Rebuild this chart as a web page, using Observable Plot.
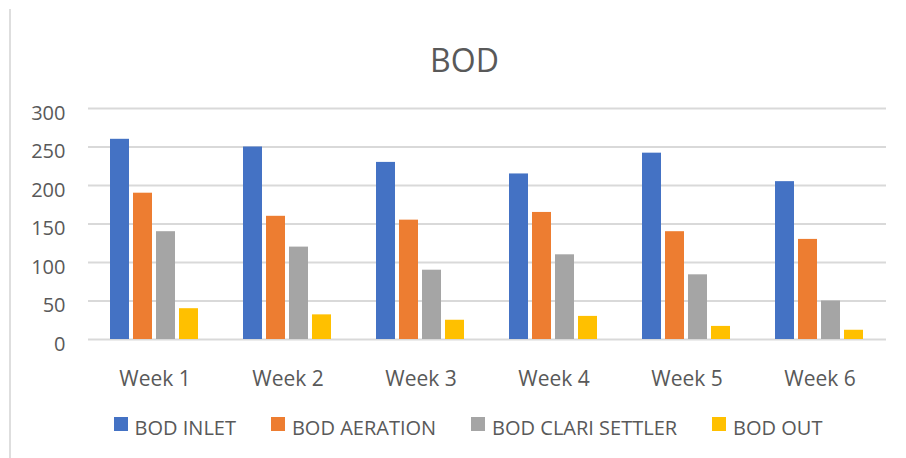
<!DOCTYPE html>
<html>
<head>
<meta charset="utf-8">
<script src="https://cdn.jsdelivr.net/npm/d3@7"></script>
<script src="https://cdn.jsdelivr.net/npm/@observablehq/plot@0.6"></script>
<style>
  html, body { margin: 0; padding: 0; background: #fff; }
  body { width: 906px; height: 458px; position: relative; overflow: hidden; font-family: "Open Sans", sans-serif; color: #595959; }
  #border { position: absolute; left: 9px; top: 9px; bottom: 0; width: 2px; background: #dedede; }
  #title { position: absolute; left: 0; top: 44px; width: 929px; text-align: center; font-size: 32px; line-height: 1; }
  #chart { position: absolute; left: 0; top: 0; }
  #legend { position: absolute; left: 15px; top: 418px; width: 906px; display: flex; justify-content: center; gap: 35px; font-size: 20px; line-height: 1; }
  .item { display: flex; align-items: center; gap: 7px; white-space: nowrap; }
  .sw { width: 14px; height: 14px; position: relative; top: -4px; }
</style>
</head>
<body>
<div id="border"></div>
<div id="title">BOD</div>
<div id="chart"></div>
<div id="legend"></div>
<script>
const weeks = ["Week 1", "Week 2", "Week 3", "Week 4", "Week 5", "Week 6"];
const series = ["BOD INLET", "BOD AERATION", "BOD CLARI SETTLER", "BOD OUT"];
const inlet = [260, 250, 230, 215, 242, 205];
const aeration = [190, 160, 155, 165, 140, 130];
const clari = [140, 120, 90, 110, 84, 50];
const out = [40, 32, 25, 30, 17, 12];
const colors = ["#4472c4", "#ed7d31", "#a5a5a5", "#ffc000"];
const yTicks = [0, 50, 100, 150, 200, 250, 300];

const valuesBySeries = [inlet, aeration, clari, out];
const data = [];
weeks.forEach((w, i) => {
  series.forEach((s, j) => {
    data.push({week: w, series: s, value: valuesBySeries[j][i]});
  });
});

const chart = Plot.plot({
  width: 906,
  height: 400,
  marginTop: 108,
  marginBottom: 61,
  marginLeft: 86,
  marginRight: 18,
  style: {fontFamily: "Open Sans, sans-serif", color: "#595959", background: "transparent"},
  fx: {domain: weeks, padding: 0, label: null},
  x: {domain: series, paddingInner: 0.167, paddingOuter: 0.868, axis: null},
  y: {domain: [0, 300], axis: null},
  color: {domain: series, range: colors},
  marks: [
    Plot.gridY(yTicks, {stroke: "#d9d9d9", strokeOpacity: 1, strokeWidth: 2}),
    Plot.barY(data, {fx: "week", x: "series", y: "value", fill: "series"}),
    Plot.axisY(yTicks, {tickSize: 0, tickPadding: 23, fontSize: 20, fill: "#595959", dy: 5, label: null}),
    Plot.axisFx({anchor: "bottom", tickSize: 0, tickPadding: 32, fontSize: 21, fill: "#595959", label: null})
  ]
});
document.getElementById("chart").appendChild(chart);

const legend = document.getElementById("legend");
series.forEach((s, i) => {
  const item = document.createElement("div");
  item.className = "item";
  const sw = document.createElement("div");
  sw.className = "sw";
  sw.style.background = colors[i];
  const label = document.createElement("span");
  label.textContent = s;
  item.appendChild(sw);
  item.appendChild(label);
  legend.appendChild(item);
});
</script>
</body>
</html>
